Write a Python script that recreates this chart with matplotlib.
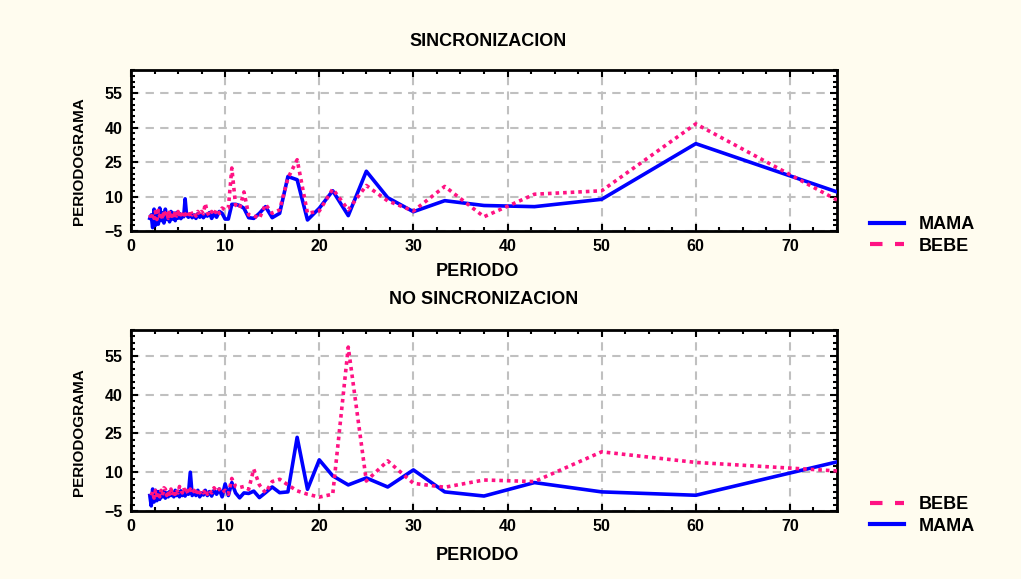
import matplotlib
matplotlib.use("Agg")
import matplotlib.pyplot as plt
from matplotlib.lines import Line2D
from matplotlib.ticker import MultipleLocator

# periodos (descendente)
periodo = [75, 60, 50, 42.86, 37.5, 33.33, 30, 27.27, 25, 23.08, 21.43, 20,
           18.75, 17.65, 16.67, 15.79, 15, 14.29, 13.64, 13.04, 12.5, 12,
           11.54, 11.11, 10.71, 10.34, 10, 9.68, 9.38, 9.09, 8.82, 8.57, 8.33,
           8.11, 7.89, 7.69, 7.5,
           7.3, 7.1, 6.9, 6.7, 6.5, 6.3, 6.1, 5.9, 5.75, 5.6, 5.45, 5.3, 5.15,
           5.0, 4.85, 4.7, 4.55, 4.4, 4.25, 4.1, 3.95, 3.8, 3.65, 3.5, 3.35,
           3.2, 3.05, 2.9, 2.75, 2.6, 2.45, 2.3, 2.15, 2.0]

# SINCRONIZACION
sinc_mama = [12, 33, 8.8, 5.6, 6.1, 8.2, 3.4, 9.5, 21, 1.7, 12.5, 4.9,
             -0.2, 17.3, 18.7, 2.7, 0.8, 5.6, 2.7, 0.5, 0.8, 4.9,
             6.1, 6.6, 6.6, 0.2, 0.2, 2.7, 3.5, 1.0, 2.5, 0.5, 3.0,
             1.5, 2.0, 0.8, 2.2,
             1.0, 2.5, 0.5, 2.0, 0.8, 2.4, 1.0, 2.0, 9.0, 1.2, 2.2, 0.4, 2.6,
             0.6, 3.0, -0.5, 2.8, 0.2, 3.5, -1.0, 2.5, 0.0, 4.5, -1.5, 3.0,
             -0.5, 5.0, -2.0, 3.5, -2.5, 4.5, -3.5, 2.0, 0.5]
sinc_bebe = [8.5, 41.6, 12.5, 11, 1.2, 14.4, 3.7, 8.1, 14.8, 4.2, 13.3, 3.7,
             2.7, 26, 18, 4.2, 2.7, 6.6, 0.5, 1.7, 2.0, 12,
             4.9, 6.3, 22.4, 4.9, 4.2, 5.0, 2.7, 4.5, 2.0, 3.5, 1.5,
             3.0, 7.0, 2.5, 3.5,
             2.0, 3.5, 1.5, 3.0, 2.0, 4.0, 1.5, 3.0, 2.0, 3.5, 1.5, 3.0, 1.0,
             3.5, 1.5, 4.0, 0.5, 3.0, 1.5, 4.0, 0.5, 3.5, 1.0, 4.0, 0.0,
             3.0, 1.5, 4.0, 0.0, 3.5, 0.5, 2.5, 0.0, 2.0]

# NO SINCRONIZACION
nosinc_mama = [14, 1.1, 2.4, 6.0, 0.8, 2.4, 10.9, 4.3, 7.8, 5.1, 8.6, 14.8,
               3.4, 23.5, 2.4, 2.1, 4.3, 2.1, 0.2, 2.7, 1.8, 2.0,
               0.1, 2.0, 6.0, 1.0, 5.5, 0.5, 3.5, 1.5, 3.0, 0.8, 2.5,
               1.0, 3.0, 1.2, 2.0,
               0.5, 3.0, 1.0, 2.5, 1.0, 10.0, 1.5, 2.5, 0.8, 2.5, 1.0, 2.8, 0.5,
               2.5, 1.0, 3.0, 0.5, 2.0, 1.0, 2.5, 0.5, 2.0, 0.0, 2.5, 0.5,
               2.0, -0.5, 2.5, -1.0, 3.0, -1.5, 3.5, -3.0, 1.0]
nosinc_bebe = [10.5, 13.8, 17.9, 6.4, 7.0, 4.2, 5.7, 14.4, 6.6, 58.4, 1.5, 0.4,
               1.5, 2.8, 5.1, 7.3, 6.4, 2.1, 5.1, 11.2, 3.4, 4.5,
               4.1, 4.5, 7.6, 1.5, 3.0, 2.0, 3.5, 2.5, 4.0, 2.0, 3.0,
               1.5, 3.5, 2.0, 3.0,
               2.0, 3.5, 1.5, 3.0, 2.0, 3.5, 1.5, 3.0, 2.0, 4.0, 2.0, 3.5, 4.5,
               2.0, 3.5, 1.5, 3.0, 1.0, 3.5, 1.5, 3.0, 1.0, 3.5, 4.0, 1.0,
               3.0, 0.5, 2.5, 1.0, 3.0, 0.0, 2.5, 0.5, 1.5]

x_ticks = [0, 10, 20, 30, 40, 50, 60, 70]
y_ticks = [-5, 10, 25, 40, 55]

BLUE = "#0000ff"
PINK = "#ff1283"
BG = "#fffcef"

plt.rcParams["font.family"] = ["Liberation Sans", "DejaVu Sans"]
plt.rcParams["font.weight"] = "bold"
FS_TICK = 11.5
FS_LAB = 13
LW = 2.6

fig = plt.figure(figsize=(10.21, 5.79), dpi=100, facecolor=BG)
ax1 = fig.add_axes([0.1283, 0.601, 0.6915, 0.278])
ax2 = fig.add_axes([0.1283, 0.1174, 0.6915, 0.3126])


def style_axes(ax):
    ax.set_xlim(0, 75)
    ax.set_ylim(-5, 65)
    ax.set_xticks(x_ticks)
    ax.set_yticks(y_ticks)
    ax.xaxis.set_minor_locator(MultipleLocator(2.5))
    ax.yaxis.set_minor_locator(MultipleLocator(2.5))
    ax.tick_params(which="both", direction="in", top=True, right=True,
                   labelsize=FS_TICK, width=1.5, colors="black")
    ax.tick_params(which="major", length=5, pad=6)
    ax.tick_params(which="minor", length=3)
    for lab in ax.get_xticklabels() + ax.get_yticklabels():
        lab.set_fontweight("bold")
    ax.grid(True, color="#c0c0c0", linestyle=(0, (4, 3)), linewidth=1.5)
    ax.set_axisbelow(True)
    for sp in ax.spines.values():
        sp.set_linewidth(2)
    ax.set_facecolor("white")


ax1.plot(periodo, sinc_mama, color=BLUE, lw=LW, zorder=3)
ax1.plot(periodo, sinc_bebe, color=PINK, lw=LW, linestyle=(0, (1, 1.1)), zorder=4)
style_axes(ax1)

ax2.plot(periodo, nosinc_mama, color=BLUE, lw=LW, zorder=3)
ax2.plot(periodo, nosinc_bebe, color=PINK, lw=LW, linestyle=(0, (1, 1.1)), zorder=4)
style_axes(ax2)

# textos
W, H = 1021, 579
fig.text(488 / W, 1 - 42 / H, "SINCRONIZACION", ha="center", va="center",
         fontsize=FS_LAB, fontweight="bold")
fig.text(484 / W, 1 - 300 / H, "NO SINCRONIZACION", ha="center", va="center",
         fontsize=FS_LAB, fontweight="bold")
fig.text(477 / W, 1 - 271 / H, "PERIODO", ha="center", va="center",
         fontsize=FS_LAB, fontweight="bold")
fig.text(477 / W, 1 - 555 / H, "PERIODO", ha="center", va="center",
         fontsize=FS_LAB, fontweight="bold")
fig.text(79 / W, 1 - 161 / H, "PERIODOGRAMA", ha="center", va="center",
         rotation=90, fontsize=11, fontweight="bold")
fig.text(79 / W, 1 - 432 / H, "PERIODOGRAMA", ha="center", va="center",
         rotation=90, fontsize=11, fontweight="bold")

h_mama = Line2D([], [], color=BLUE, lw=3)
h_bebe = Line2D([], [], color=PINK, lw=3, linestyle=(0, (3, 3)))

leg_kw = dict(loc="upper left", frameon=False, handlelength=1.9,
              handletextpad=0.8, labelspacing=0.25, borderpad=0,
              borderaxespad=0, prop={"weight": "bold", "size": FS_LAB})
fig.legend([h_mama, h_bebe], ["MAMA", "BEBE"],
           bbox_to_anchor=(870 / W, 1 - 216 / H), **leg_kw)
fig.legend([h_bebe, h_mama], ["BEBE", "MAMA"],
           bbox_to_anchor=(870 / W, 1 - 496 / H), **leg_kw)

fig.savefig("out.png", dpi=100, facecolor=BG)
